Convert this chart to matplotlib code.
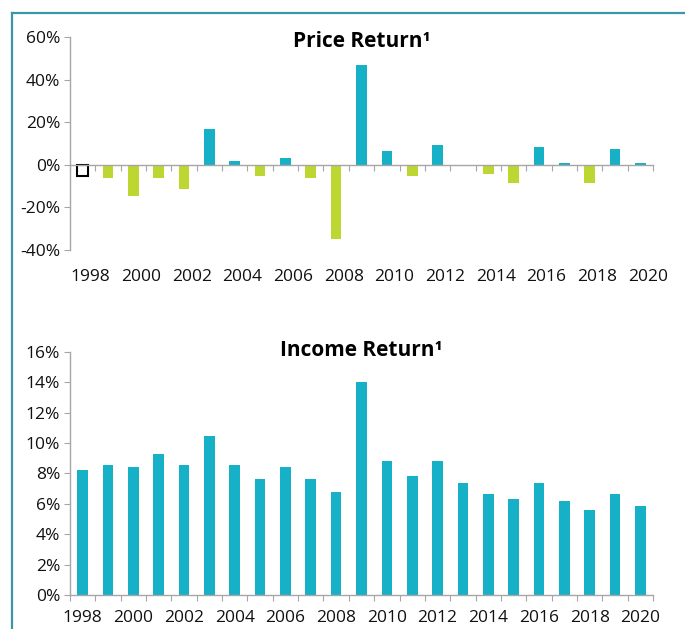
import matplotlib.pyplot as plt
import numpy as np
from matplotlib.lines import Line2D

# data
years = list(range(1998, 2021))
price_return = [-5.2, -6.2, -14.5, -6.0, -11.5, 17.0, 2.0, -5.2, 3.2, -6.0, -35.0,
                46.7, 6.3, -5.4, 9.5, 0.0, -4.3, -8.5, 8.5, 1.0, -8.5, 7.4, 1.0]
income_return = [8.22, 8.55, 8.42, 9.27, 8.55, 10.46, 8.55, 7.63, 8.42, 7.63, 6.78,
                 14.0, 8.82, 7.83, 8.82, 7.37, 6.64, 6.32, 7.37, 6.18, 5.59, 6.64, 5.86]
price_ticks = [-40, -20, 0, 20, 40, 60]
income_ticks = [0, 2, 4, 6, 8, 10, 12, 14, 16]

teal = '#16B1C6'
green = '#BDD632'
frame = '#3A98A6'
axis_grey = '#A6A6A6'
text_col = '#111111'

plt.rcParams['font.family'] = ['Open Sans', 'DejaVu Sans']

fig = plt.figure(figsize=(6.85, 6.29), dpi=100)
W, H = 685, 629

# teal frame line (top and left edges only visible)
fig.add_artist(Line2D([12.5 / W, 12.5 / W], [0, 1 - 12.5 / H], color=frame, lw=1.6,
                      transform=fig.transFigure))
fig.add_artist(Line2D([12.5 / W, 1], [1 - 12.5 / H, 1 - 12.5 / H], color=frame, lw=1.6,
                      transform=fig.transFigure))

x = np.arange(len(years))
bounds = np.arange(len(years) + 1) - 0.5


def style_axes(ax, yticks, title, title_y, label_shift, label_pad):
    for s in ['top', 'right']:
        ax.spines[s].set_visible(False)
    for s in ['left', 'bottom']:
        ax.spines[s].set_color(axis_grey)
        ax.spines[s].set_linewidth(1)
    ax.set_xlim(-0.5, len(years) - 0.5)
    ax.set_ylim(yticks[0], yticks[-1])
    ax.set_yticks(yticks)
    ax.set_yticklabels([f'{t}%' for t in yticks])
    ax.tick_params(axis='y', direction='out', length=4, color=axis_grey,
                   labelsize=12.5, labelcolor=text_col, pad=3)
    ax.set_xticks(bounds)
    ax.set_xticklabels([])
    ax.tick_params(axis='x', direction='out', length=4, color=axis_grey)
    sec = ax.secondary_xaxis('bottom')
    sec.spines['bottom'].set_visible(False)
    sec.set_xticks(x[::2] + label_shift)
    sec.set_xticklabels([str(y) for y in years[::2]])
    sec.tick_params(length=0, labelsize=12.5, labelcolor=text_col, pad=label_pad)
    ax.text(0.5, title_y, title, transform=ax.transAxes, ha='center', va='center',
            fontsize=15, fontweight='bold', color='black')


# Price return
ax1 = fig.add_axes([70 / W, 1 - 250 / H, 583 / W, 213 / H])
cols = [teal if v > 0 else green for v in price_return]
bars = ax1.bar(x, price_return, width=0.42, color=cols, zorder=2)
# first bar is drawn as an outlined box in the reference
bars[0].set_facecolor('white')
bars[0].set_edgecolor('black')
bars[0].set_linewidth(1.5)
ax1.spines['bottom'].set_position(('data', 0))
style_axes(ax1, price_ticks, 'Price Return¹', 0.98, 0.3, 14)

# Income return
ax2 = fig.add_axes([70 / W, 1 - 595 / H, 583 / W, 243.3 / H])
ax2.bar(x, income_return, width=0.42, color=teal, zorder=2)
style_axes(ax2, income_ticks, 'Income Return¹', 1.005, 0.0, 11)

fig.savefig('out.png', dpi=100)
